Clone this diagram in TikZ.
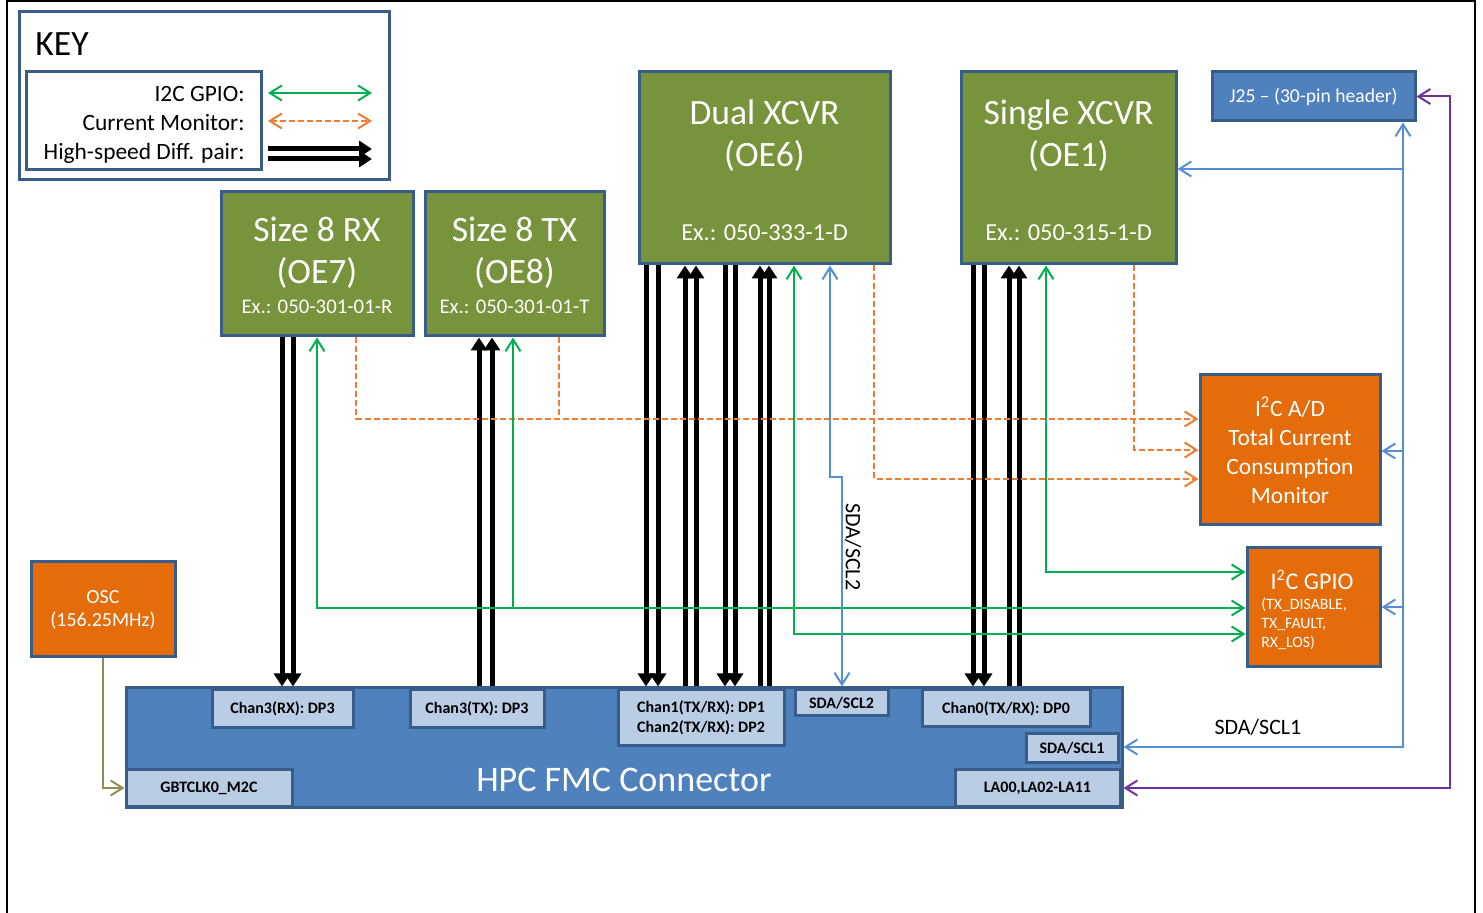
\documentclass[tikz,border=0pt]{standalone}
\usepackage{fontspec}
\setmainfont{Carlito}
\usetikzlibrary{arrows.meta}
\definecolor{oegreen}{HTML}{77933C}
\definecolor{boxline}{HTML}{385D8A}
\definecolor{orfill}{HTML}{E46C0A}
\definecolor{bluefill}{HTML}{4F81BD}
\definecolor{pinfill}{HTML}{B9CDE5}
\definecolor{gpioline}{HTML}{00B050}
\definecolor{monline}{HTML}{ED7D31}
\definecolor{sdaline}{HTML}{558ED5}
\definecolor{laline}{HTML}{7030A0}
\definecolor{clkline}{HTML}{948A54}
\tikzset{blk/.style = {draw=boxline, line width=1.5pt, inner sep=0pt}}
\tikzset{oebox/.style = {blk, fill=oegreen}}
\tikzset{orbox/.style = {blk, fill=orfill, text=white, align=center}}
\tikzset{bluebox/.style = {blk, fill=bluefill, text=white, align=center}}
\tikzset{pinbox/.style = {blk, fill=pinfill, align=center, font=\bfseries\fontsize{8}{10}\selectfont}}
\tikzset{txt/.style = {inner sep=0pt}}
\tikzset{oename/.style = {txt, text=white, align=center, font=\fontsize{17.8}{21}\selectfont}}
\tikzset{oeex/.style = {txt, text=white, font=\fontsize{10.4}{12}\selectfont}}
\tikzset{gpio/.style = {draw=gpioline, line width=1pt}}
\tikzset{curmon/.style = {draw=monline, line width=1pt, dash pattern=on 3pt off 1.5pt}}
\tikzset{sda/.style = {draw=sdaline, line width=1pt}}
\tikzset{lapath/.style = {draw=laline, line width=1pt}}
\tikzset{clk/.style = {draw=clkline, line width=1pt}}
\tikzset{hsd/.style = {line width=2.5pt, -{Triangle[length=6.5pt, width=8pt]}}}

\begin{document}
\begin{tikzpicture}[x=0.5pt, y=-0.5pt, >={Straight Barb[length=6pt, width=7.5pt]}]
  \useasboundingbox (0,0) rectangle (1483,913);
  \draw[line width=1.2pt] (7,913) -- (7,1) -- (1475,1) -- (1475,913);

  % key
  \node[blk, fill=white, minimum width=185pt, minimum height=84pt] (key) at (204,96) {};
  \node[txt, anchor=west, font=\fontsize{17.8}{21}\selectfont] (keytitle) at (35,44) {KEY};
  \node[blk, fill=white, minimum width=117.5pt, minimum height=49pt] (keyin) at (143.5,121) {};
  \node[txt, anchor=east, align=right, font=\fontsize{11.7}{14.5}\selectfont] (keytext) at (245,125) {I2C GPIO:\\Current Monitor:\\High-speed Diff. pair:};
  \coordinate (k1a) at (268,93);  \coordinate (k1b) at (372,93);
  \coordinate (k2a) at (268,121); \coordinate (k2b) at (372,121);
  \coordinate (k3a) at (268,149); \coordinate (k3b) at (372,149);
  \coordinate (k4a) at (268,159); \coordinate (k4b) at (372,159);
  \draw[gpio, <->] (k1a) -- (k1b);
  \draw[curmon, <->] (k2a) -- (k2b);
  \draw[hsd] (k3a) -- (k3b);
  \draw[hsd] (k4a) -- (k4b);

  % optical engines
  \node[oebox, minimum width=96pt, minimum height=72pt] (rx) at (317,264) {};
  \node[oename] (rxname) at (317,253) {Size 8 RX\\(OE7)};
  \node[oeex] (rxex) at (317,307) {Ex.: 050-301-01-R};
  \node[oebox, minimum width=89.5pt, minimum height=72pt] (tx) at (514.5,264) {};
  \node[oename] (txname) at (514.5,253) {Size 8 TX\\(OE8)};
  \node[oeex] (txex) at (514.5,307) {Ex.: 050-301-01-T};
  \node[oebox, minimum width=125.5pt, minimum height=96pt] (dual) at (764.5,168) {};
  \node[oename] (dualname) at (764.5,135.5) {Dual XCVR\\(OE6)};
  \node[oeex, font=\fontsize{12.2}{14}\selectfont] (dualex) at (764.5,233) {Ex.: 050-333-1-D};
  \node[oebox, minimum width=107.5pt, minimum height=96pt] (single) at (1068.5,168) {};
  \node[oename] (singlename) at (1068.5,135.5) {Single XCVR\\(OE1)};
  \node[oeex, font=\fontsize{12.2}{14}\selectfont] (singleex) at (1068.5,233) {Ex.: 050-315-1-D};

  % side parts
  \node[bluebox, minimum width=101.5pt, minimum height=24.5pt, font=\fontsize{9.8}{11}\selectfont] (j25) at (1313.5,96.5) {J25 -- (30-pin header)};
  \node[orbox, minimum width=90pt, minimum height=75pt, font=\fontsize{11.7}{14.5}\selectfont] (adc) at (1290,450) {I\textsuperscript{2}C A/D\\Total Current\\Consumption\\Monitor};
  \node[orbox, minimum width=66.5pt, minimum height=59.5pt] (gpio) at (1313.5,607.5) {};
  \node[txt, text=white, font=\fontsize{12}{14}\selectfont] (gpiotitle) at (1312,580) {I\textsuperscript{2}C GPIO};
  \node[txt, text=white, anchor=west, align=left, font=\fontsize{7.9}{9.5}\selectfont] (gpiosub) at (1261,624) {(TX\_DISABLE,\\TX\_FAULT,\\RX\_LOS)};
  \node[orbox, minimum width=72pt, minimum height=47.5pt, font=\fontsize{10}{11.5}\selectfont] (osc) at (103,609.5) {OSC\\(156.25MHz)};

  % connector
  \node[bluebox, minimum width=498pt, minimum height=59.5pt] (fmc) at (624,747.5) {};
  \node[txt, text=white, font=\fontsize{18}{21}\selectfont] (fmctext) at (624,780) {HPC FMC Connector};
  \node[pinbox, minimum width=70.5pt, minimum height=19pt] (p3rx) at (282.5,709) {Chan3(RX): DP3};
  \node[pinbox, minimum width=67pt, minimum height=19pt] (p3tx) at (477,709) {Chan3(TX): DP3};
  \node[pinbox, minimum width=83pt, minimum height=28pt] (p12) at (701,718) {Chan1(TX/RX): DP1\\Chan2(TX/RX): DP2};
  \node[pinbox, minimum width=46.5pt, minimum height=13pt] (scl2) at (841.5,703) {SDA/SCL2};
  \node[pinbox, minimum width=84pt, minimum height=18.5pt] (p0) at (1006,708.5) {Chan0(TX/RX): DP0};
  \node[pinbox, minimum width=46pt, minimum height=14.5pt] (scl1) at (1072,748.5) {SDA/SCL1};
  \node[pinbox, minimum width=82.5pt, minimum height=18pt] (la) at (1037.5,788) {LA00,LA02-LA11};
  \node[pinbox, minimum width=83pt, minimum height=18pt] (gbt) at (209,788) {GBTCLK0\_M2C};

  % high-speed pairs
  \foreach \x in {282,293}
    \draw[hsd] (\x,0 |- rx.south) -- (\x,0 |- fmc.north);
  \foreach \x in {479,492}
    \draw[hsd] (\x,0 |- fmc.north) -- (\x,0 |- tx.south);
  \foreach \x in {646,658,725,735}
    \draw[hsd] (\x,0 |- dual.south) -- (\x,0 |- fmc.north);
  \foreach \x in {685,696,760,769}
    \draw[hsd] (\x,0 |- fmc.north) -- (\x,0 |- dual.south);
  \foreach \x in {973,984}
    \draw[hsd] (\x,0 |- single.south) -- (\x,0 |- fmc.north);
  \foreach \x in {1009,1019}
    \draw[hsd] (\x,0 |- fmc.north) -- (\x,0 |- single.south);

  % current monitor
  \coordinate (txmon) at (559,419);
  \draw[curmon, ->] (356,0 |- rx.south) |- (adc.west |- 0,419);
  \draw[curmon] (559,0 |- tx.south) -- (txmon);
  \draw[curmon, ->] (874,0 |- dual.south) |- (adc.west |- 0,479);
  \draw[curmon, ->] (1134,0 |- single.south) |- (adc.west |- 0,450);

  % i2c gpio
  \coordinate (txgpio) at (513,608);
  \draw[gpio, <->] (317,0 |- rx.south) |- (gpio.west |- 0,608);
  \draw[gpio, ->] (txgpio) -- (513,0 |- tx.south);
  \draw[gpio, <->] (794,0 |- dual.south) |- (gpio.west |- 0,634);
  \draw[gpio, <->] (1046,0 |- single.south) |- (gpio.west |- 0,572);

  % sda/scl
  \draw[sda, <->] (1403,0 |- j25.south) |- (fmc.east |- 0,747);
  \draw[sda, ->] (1403,169) -- (single.east |- 0,169);
  \draw[sda, ->] (1403,451) -- (adc.east |- 0,451);
  \draw[sda, ->] (1403,607) -- (gpio.east |- 0,607);
  \draw[sda, <->] (830,0 |- dual.south) -- (830,477) -- (842,477) -- (842,0 |- fmc.north);
  \node[txt, font=\fontsize{11}{13}\selectfont] (scl1lab) at (1258,727) {SDA/SCL1};
  \node[txt, rotate=-90, font=\fontsize{11}{13}\selectfont] (scl2lab) at (853,547) {SDA/SCL2};

  % la bus and clock
  \draw[lapath, <->] (j25.east) -- (1450,0 |- j25.east) |- (fmc.east |- la.east);
  \draw[clk, ->] (osc.south) |- (fmc.west |- gbt.west);
\end{tikzpicture}
\end{document}
